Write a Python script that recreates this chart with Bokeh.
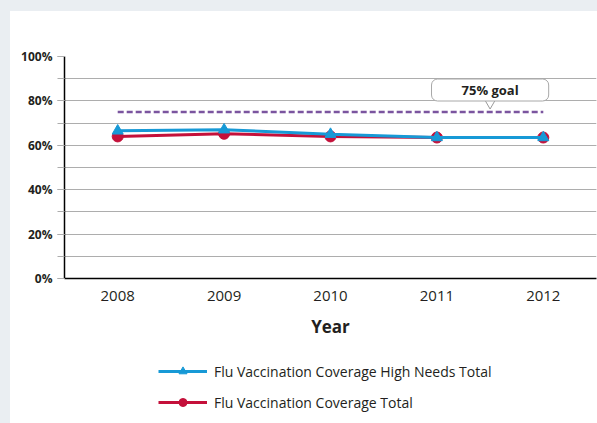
from bokeh.plotting import figure
from bokeh.models import (FactorRange, Range1d, SingleIntervalTicker, PrintfTickFormatter,
                          Legend, LegendItem, Label)
from bokeh.layouts import column
from bokeh.embed import file_html
from bokeh.resources import INLINE

years = ["2008", "2009", "2010", "2011", "2012"]
high_needs = [66.5, 67.0, 65.0, 63.5, 63.5]
total = [64.0, 65.2, 64.0, 63.5, 63.5]
goal = 75
goal_text = "75% goal"
x_title = "Year"
series_names = ["Flu Vaccination Coverage High Needs Total", "Flu Vaccination Coverage Total"]

BLUE = "#1799d6"
RED = "#c4103a"
PURPLE = "#7b559f"
GRID = "#adadad"
TXT = "#231f20"
FONT = "Open Sans"

p = figure(width=587, height=345, x_range=FactorRange(factors=years), y_range=Range1d(0, 100),
           output_backend="svg", toolbar_location=None,
           min_border_left=54, min_border_right=1, min_border_top=45, min_border_bottom=78)
p.outline_line_color = None
p.background_fill_color = "white"
p.border_fill_color = "white"

# grid
p.xgrid.grid_line_color = None
p.ygrid.grid_line_color = GRID
p.ygrid.minor_grid_line_color = GRID
p.ygrid.grid_line_width = 1.2
p.ygrid.minor_grid_line_width = 1.2

# y axis
ya = p.yaxis[0]
ya.ticker = SingleIntervalTicker(interval=20, num_minor_ticks=2)
ya.formatter = PrintfTickFormatter(format="%d%%")
ya.axis_line_color = "black"
ya.axis_line_width = 1.5
ya.major_tick_in = 0
ya.major_tick_out = 7
ya.minor_tick_in = 0
ya.minor_tick_out = 7
ya.major_tick_line_color = GRID
ya.minor_tick_line_color = GRID
ya.major_label_text_font = FONT
ya.major_label_text_font_style = "bold"
ya.major_label_text_font_size = "12px"
ya.major_label_text_color = TXT
ya.major_label_standoff = 5

# x axis
xa = p.xaxis[0]
xa.axis_line_color = "black"
xa.axis_line_width = 1.5
xa.major_tick_line_color = None
xa.minor_tick_line_color = None
xa.major_tick_out = 0
xa.major_label_text_font = FONT
xa.major_label_text_font_size = "15px"
xa.major_label_text_color = TXT
xa.major_label_standoff = 12
xa.axis_label = x_title
xa.axis_label_text_font = FONT
xa.axis_label_text_font_style = "bold"
xa.axis_label_text_font_size = "17px"
xa.axis_label_text_color = TXT
xa.axis_label_standoff = 11

# goal line
p.line(x=years, y=[goal] * len(years), line_color=PURPLE, line_width=2.5, line_dash="6 3")

# series
p.line(x=years, y=total, line_color=RED, line_width=3)
p.scatter(x=years, y=total, marker="circle", size=11, fill_color=RED, line_color=RED)
p.line(x=years, y=high_needs, line_color=BLUE, line_width=3)
p.scatter(x=years, y=high_needs, marker="triangle", size=11, fill_color=BLUE, line_color=BLUE)

# callout shadow, pointer + label
shadow = Label(x=4.0, y=goal, x_offset=1.5, y_offset=20.5, text=goal_text, text_align="center",
               text_baseline="middle", text_font=FONT, text_font_style="bold", text_font_size="13px",
               text_alpha=0, background_fill_color="#9a9a9a", background_fill_alpha=0.45,
               border_line_color=None, border_radius=6, padding=(30, 2))
p.add_layout(shadow)
p.scatter(x=[4.0], y=[goal + 4.2], marker="inverted_triangle", size=11,
          fill_color="white", line_color="#9a9a9a", line_width=1)
lbl = Label(x=4.0, y=goal, y_offset=22, text=goal_text, text_align="center", text_baseline="middle",
            text_font=FONT, text_font_style="bold", text_font_size="13px", text_color=TXT,
            background_fill_color="white", border_line_color="#a8a8a8", border_line_width=1,
            border_radius=6, padding=(30, 2))
p.add_layout(lbl)

# legend panel: a separate figure whose ranges keep its series renderers out of view,
# so only the legend (with its swatches) is seen there
lg = figure(width=587, height=67, x_range=FactorRange(factors=years), y_range=Range1d(200, 300),
            output_backend="svg", toolbar_location=None,
            x_axis_location=None, y_axis_location=None,
            min_border_left=0, min_border_right=0, min_border_top=0, min_border_bottom=0)
lg.grid.visible = False
lg.outline_line_color = None
lg.border_fill_color = "white"
lg.background_fill_color = "white"
b_line = lg.line(x=years, y=high_needs, line_color=BLUE, line_width=3)
b_pts = lg.scatter(x=years, y=high_needs, marker="triangle", size=10, fill_color=BLUE, line_color=BLUE)
r_line = lg.line(x=years, y=total, line_color=RED, line_width=3)
r_pts = lg.scatter(x=years, y=total, marker="circle", size=11, fill_color=RED, line_color=RED)

legend = Legend(items=[LegendItem(label=series_names[0], renderers=[b_line, b_pts]),
                       LegendItem(label=series_names[1], renderers=[r_line, r_pts])],
                location=(94, 11), orientation="vertical",
                glyph_width=49, glyph_height=20, label_height=20, label_standoff=7,
                spacing=11, padding=0, margin=0,
                label_text_font=FONT, label_text_font_size="14px", label_text_color=TXT,
                background_fill_alpha=0, border_line_color=None)
lg.add_layout(legend, "center")

inner = column(p, lg, spacing=0, styles={"background-color": "white"}, width=587, height=412)
inner.margin = (11, 0, 0, 10)
layout = column(inner, styles={"background-color": "#eaeef2"}, width=597, height=423)

open("out.html", "w").write(file_html(layout, INLINE))
